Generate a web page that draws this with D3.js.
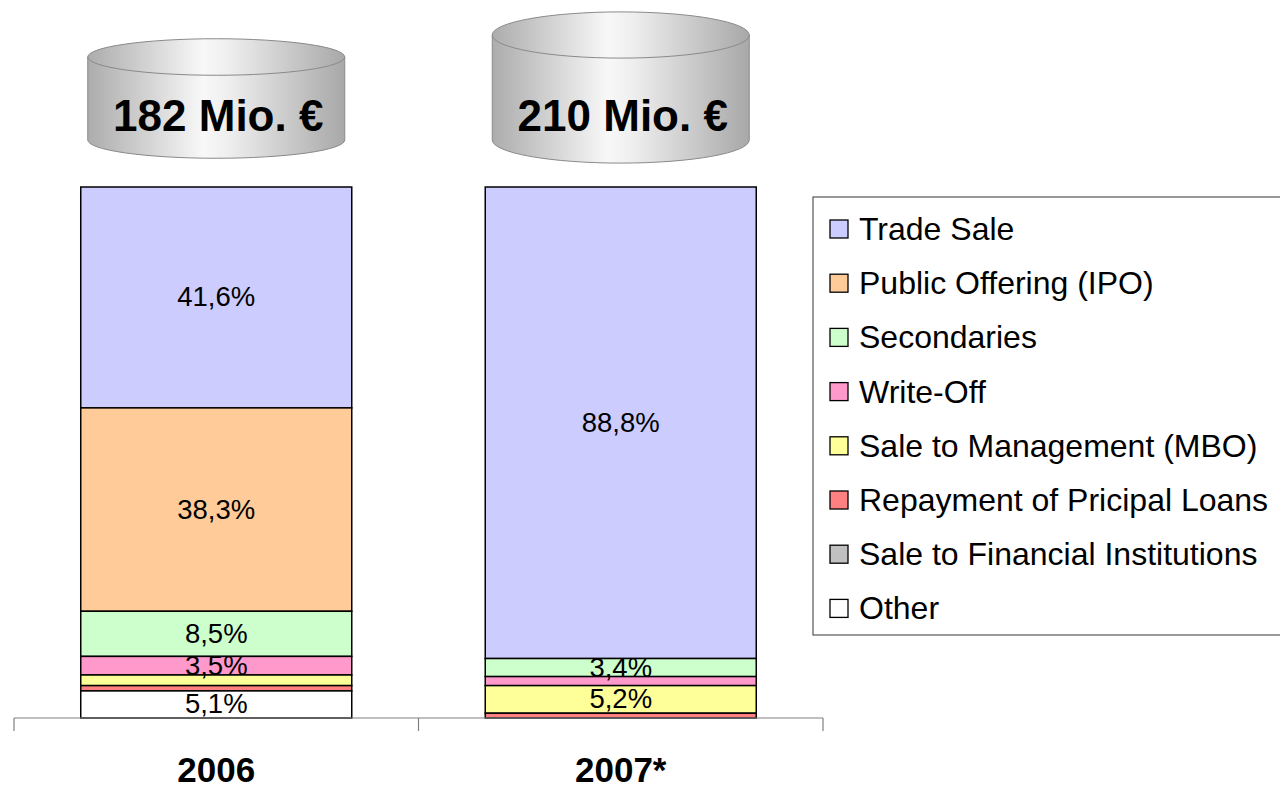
<!DOCTYPE html>
<html>
<head>
<meta charset="utf-8">
<script src="https://cdn.jsdelivr.net/npm/d3@7"></script>
<style>
	body { margin: 0; background: #fff; }
	svg { display: block; font-family: 'Liberation Sans', Arial, sans-serif; }
</style>
</head>
<body>
<div id="chart"></div>
<script>
const years = ['2006', '2007*'];
const totals = [182, 210];
const totalLabels = ['182 Mio. €', '210 Mio. €'];
const categories = [
	'Trade Sale',
	'Public Offering (IPO)',
	'Secondaries',
	'Write-Off',
	'Sale to Management (MBO)',
	'Repayment of Pricipal Loans',
	'Sale to Financial Institutions',
	'Other',
];
const colors = ['#ccccff', '#ffcc99', '#ccffcc', '#ff99cc', '#ffff99', '#ff8080', '#c0c0c0', '#ffffff'];
// shares in percent, one array per year, same order as categories
const shares2006 = [41.6, 38.3, 8.5, 3.5, 2.0, 1.0, 0, 5.1];
const shares2007 = [88.8, 0, 3.4, 1.7, 5.2, 0.9, 0, 0];

const width = 1280,
	height = 791;

const svg = d3
	.select('#chart')
	.append('svg')
	.attr('width', width)
	.attr('height', height);

const x = d3.scaleBand().domain(years).range([14, 823]).padding(0);
const barW = x.bandwidth() * 0.67;
const y = d3.scaleLinear().domain([0, 100]).range([718, 187]);
const color = d3.scaleOrdinal().domain(categories).range(colors);

// cylinder height driven by total volume
const cylH = d3.scaleLinear().domain([182, 210]).range([83, 105]);
const cylBottom = 140;
const cylRx = 128.5;

const defs = svg.append('defs');
const grad = defs
	.append('linearGradient')
	.attr('id', 'cylGrad')
	.attr('x1', '0%')
	.attr('x2', '100%')
	.attr('y1', '0%')
	.attr('y2', '0%');
grad.append('stop').attr('offset', '0%').attr('stop-color', '#acacac');
grad.append('stop').attr('offset', '45%').attr('stop-color', '#f8f8f8');
grad.append('stop').attr('offset', '55%').attr('stop-color', '#eeeeee');
grad.append('stop').attr('offset', '100%').attr('stop-color', '#a8a8a8');

// stacked data
const seriesByYear = [shares2006, shares2007];
const stacked = years.map((yr, i) => {
	let acc = 100;
	return categories.map((c, j) => {
		const v = seriesByYear[i][j];
		const top = acc;
		acc -= v;
		return { year: yr, cat: c, value: v, top: top, bottom: acc };
	}).filter(d => d.value > 0);
});

// cylinders
const cyl = svg
	.append('g')
	.selectAll('g')
	.data(years.map((yr, i) => ({ year: yr, total: totals[i], label: totalLabels[i] })))
	.enter()
	.append('g');

cyl.each(function (d) {
	const g = d3.select(this);
	const cx = x(d.year) + x.bandwidth() / 2;
	const h = cylH(d.total);
	const ry = h * 0.22;
	const top = cylBottom - h;
	g.append('path')
		.attr(
			'd',
			`M${cx - cylRx},${top} L${cx - cylRx},${cylBottom} A${cylRx},${ry} 0 0 0 ${cx + cylRx},${cylBottom} L${cx + cylRx},${top} Z`
		)
		.attr('fill', 'url(#cylGrad)')
		.attr('stroke', '#8a8a8a')
		.attr('stroke-width', 1);
	g.append('ellipse')
		.attr('cx', cx)
		.attr('cy', top)
		.attr('rx', cylRx)
		.attr('ry', ry)
		.attr('fill', 'url(#cylGrad)')
		.attr('stroke', '#8a8a8a')
		.attr('stroke-width', 1);
	g.append('text')
		.attr('x', cx + 2)
		.attr('y', 131)
		.attr('text-anchor', 'middle')
		.style('font-size', '44px')
		.style('font-weight', 'bold')
		.text(d.label);
});

// bars
const bars = svg
	.append('g')
	.selectAll('g')
	.data(stacked)
	.enter()
	.append('g');

bars
	.selectAll('rect')
	.data(d => d)
	.enter()
	.append('rect')
	.attr('x', d => x(d.year) + (x.bandwidth() - barW) / 2)
	.attr('y', d => y(d.top))
	.attr('width', barW)
	.attr('height', d => y(d.bottom) - y(d.top))
	.attr('fill', d => color(d.cat))
	.attr('stroke', '#000')
	.attr('stroke-width', 1.5);

bars
	.selectAll('text')
	.data(d => d.filter(s => s.value >= 3))
	.enter()
	.append('text')
	.attr('x', d => x(d.year) + x.bandwidth() / 2)
	.attr('y', d => (y(d.top) + y(d.bottom)) / 2 + 9)
	.attr('text-anchor', 'middle')
	.style('font-size', '27.5px')
	.text(d => d3.format('.1f')(d.value).replace('.', ',') + '%');

// category axis
const axis = svg.append('g').attr('stroke', '#808080').attr('stroke-width', 1.2);
axis
	.append('line')
	.attr('x1', x.range()[0])
	.attr('x2', x.range()[1])
	.attr('y1', y(0))
	.attr('y2', y(0));
axis
	.selectAll('.tick')
	.data(years.map(d => x(d)).concat([x.range()[1]]))
	.enter()
	.append('line')
	.attr('x1', d => d)
	.attr('x2', d => d)
	.attr('y1', y(0))
	.attr('y2', y(0) + 13);

svg
	.append('g')
	.selectAll('text')
	.data(years)
	.enter()
	.append('text')
	.attr('x', d => x(d) + x.bandwidth() / 2)
	.attr('y', 782)
	.attr('text-anchor', 'middle')
	.style('font-size', '35px')
	.style('font-weight', 'bold')
	.text(d => d);

// legend
const legend = svg.append('g').attr('transform', 'translate(813,197)');
legend
	.append('rect')
	.attr('width', 480)
	.attr('height', 438)
	.attr('fill', '#fff')
	.attr('stroke', '#555')
	.attr('stroke-width', 1.2);

const item = legend
	.selectAll('g')
	.data(categories)
	.enter()
	.append('g')
	.attr('transform', (d, i) => `translate(0,${32 + i * 54.2})`);

item
	.append('rect')
	.attr('x', 17)
	.attr('y', -9)
	.attr('width', 18)
	.attr('height', 18)
	.attr('fill', d => color(d))
	.attr('stroke', '#000')
	.attr('stroke-width', 1.3);

item
	.append('text')
	.attr('x', 46)
	.attr('y', 11)
	.style('font-size', '32px')
	.text(d => d);
</script>
</body>
</html>
